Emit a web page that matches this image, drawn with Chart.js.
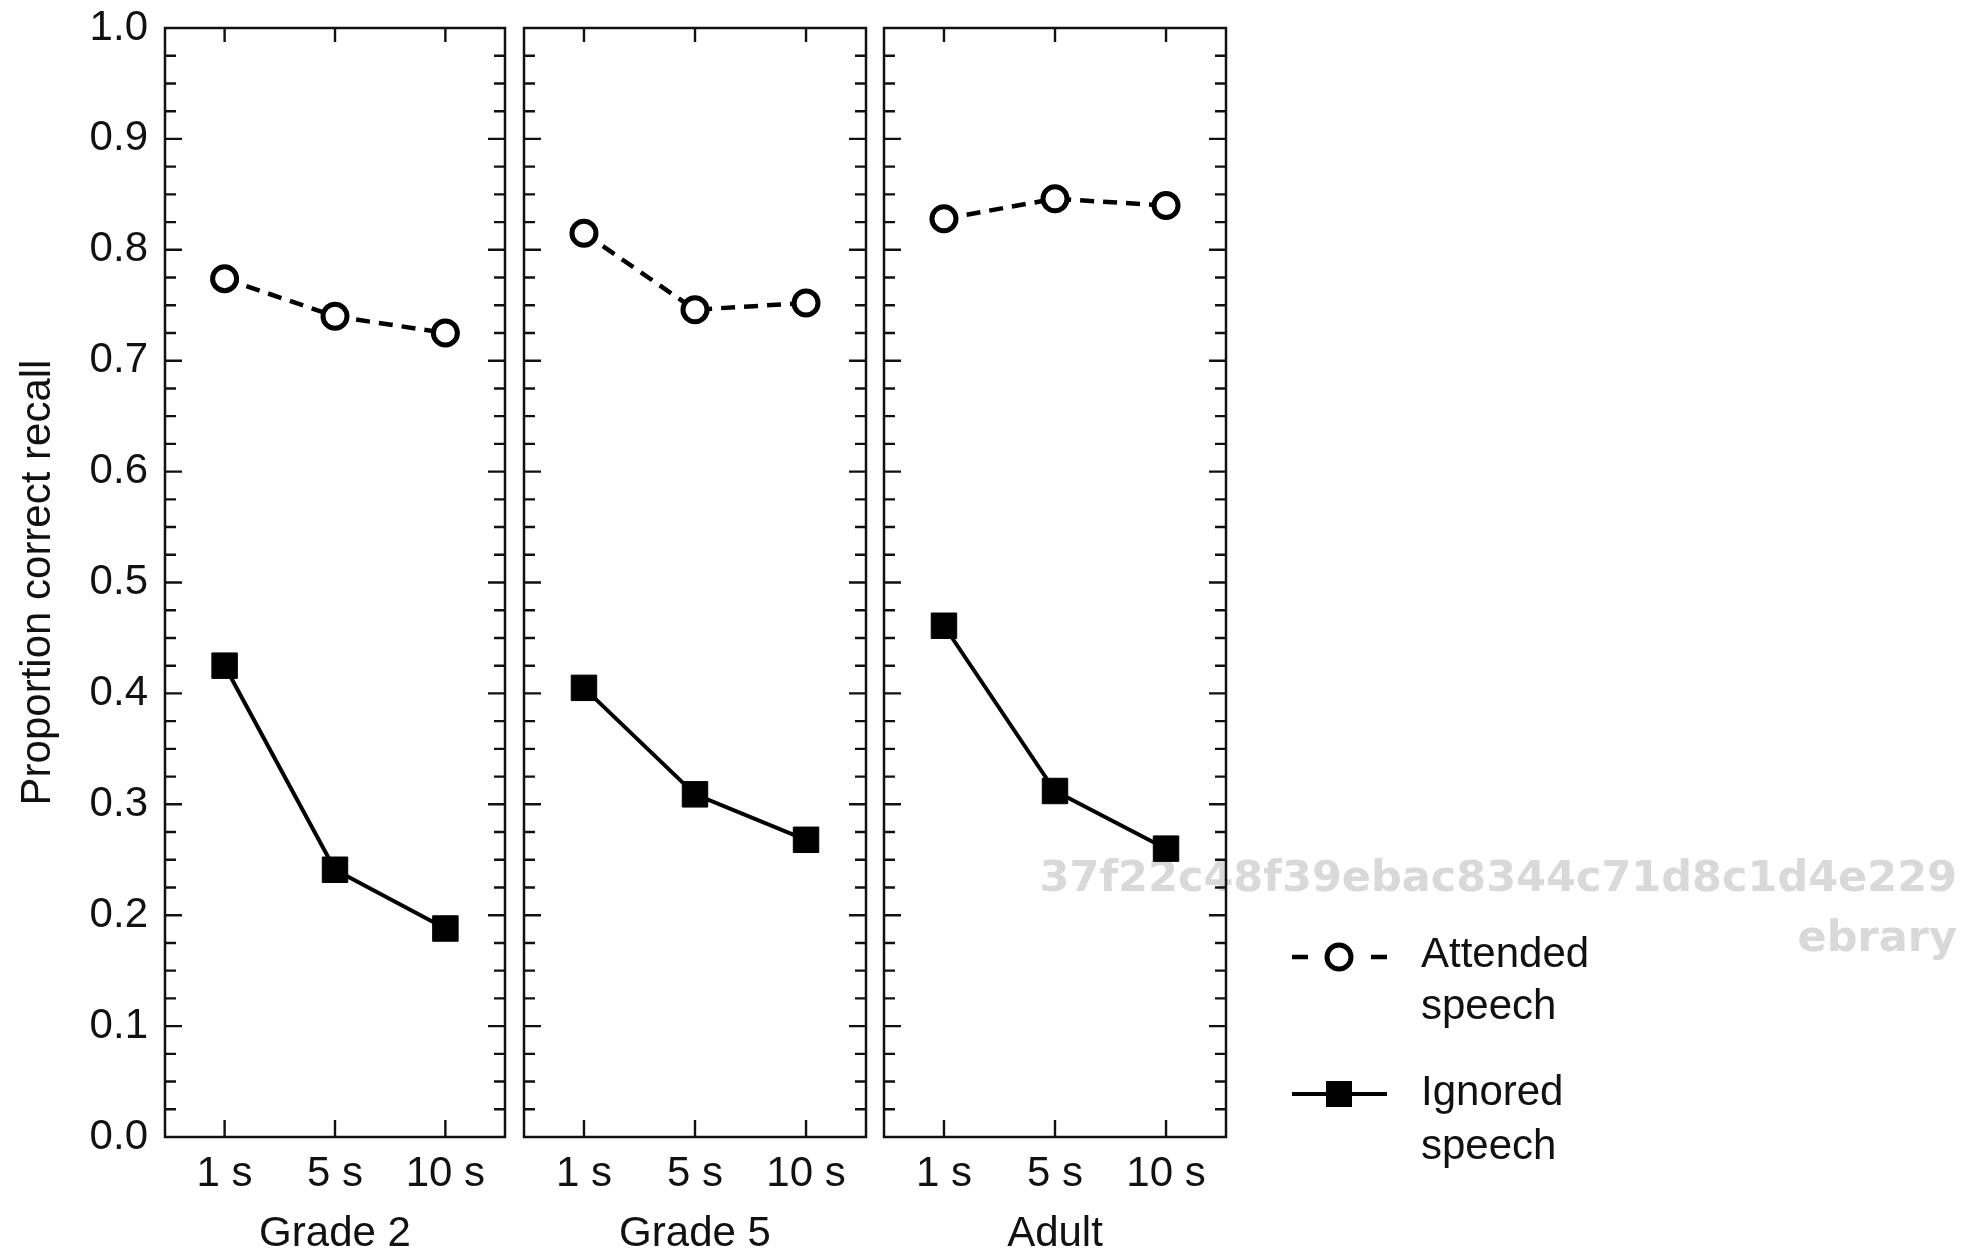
<html><head>
<title>Proportion correct recall by delay</title>
<script src="https://cdn.jsdelivr.net/npm/chart.js"></script>
<style>
  body {
    margin: 0;
    background: #fff;
  }
  .panel {
    position: absolute;
    left: 0;
    top: 0;
    width: 1986px;
    height: 1255px;
  }
</style>
</head>
<body>
<div class="panel"><canvas id="grade2"></canvas></div>
<div class="panel"><canvas id="grade5"></canvas></div>
<div class="panel"><canvas id="adult"></canvas></div>

<script>
const groups = ['Grade 2', 'Grade 5', 'Adult'];
const delays = ['1 s', '5 s', '10 s'];
const seriesNames = ['Attended speech', 'Ignored speech'];
const yTitle = 'Proportion correct recall';

const attendedGrade2 = [0.774, 0.740, 0.725];
const attendedGrade5 = [0.815, 0.746, 0.752];
const attendedAdult  = [0.828, 0.846, 0.840];
const ignoredGrade2  = [0.425, 0.241, 0.188];
const ignoredGrade5  = [0.405, 0.309, 0.268];
const ignoredAdult   = [0.461, 0.312, 0.260];

const watermark = ['37f22c48f39ebac8344c71d8c1d4e229', 'ebrary'];

// plot area left/right edges of each panel, in page pixels
const panelEdges = [[165, 505], [524, 866], [884, 1226]];
const W = 1986, H = 1255;
const font = { family: '"Liberation Sans", Arial, sans-serif', size: 42, lineHeight: 1.2 };
const titleFont = { family: '"Liberation Sans", Arial, sans-serif', size: 42, lineHeight: 1.0 };
const ink = '#111';

const framePlugin = {
  id: 'frame',
  beforeDatasetsDraw(chart) {
    const { ctx, chartArea: a, scales: { x, y } } = chart;
    ctx.save();
    ctx.strokeStyle = ink;
    ctx.lineWidth = 2.5;
    ctx.strokeRect(a.left, a.top, a.right - a.left, a.bottom - a.top);
    ctx.lineWidth = 2.4;
    ctx.beginPath();
    for (let k = 1; k < 40; k++) {
      const py = y.getPixelForValue(k / 40);
      const len = k % 4 === 0 ? 17 : 11;
      ctx.moveTo(a.left, py); ctx.lineTo(a.left + len, py);
      ctx.moveTo(a.right, py); ctx.lineTo(a.right - len, py);
    }
    delays.forEach((d, i) => {
      const px = x.getPixelForValue(i);
      ctx.moveTo(px, a.bottom); ctx.lineTo(px, a.bottom - 17);
      ctx.moveTo(px, a.top); ctx.lineTo(px, a.top + 14);
    });
    ctx.stroke();
    ctx.restore();
  }
};

const watermarkPlugin = {
  id: 'watermark',
  beforeDraw(chart) {
    const ctx = chart.ctx;
    ctx.save();
    ctx.fillStyle = '#d9d9d9';
    ctx.font = 'bold 43px "DejaVu Sans", sans-serif';
    ctx.textAlign = 'right';
    ctx.textBaseline = 'middle';
    ctx.fillText(watermark[0], 1957, 880);
    ctx.fillText(watermark[1], 1957, 940);
    ctx.restore();
  }
};

const legendPlugin = {
  id: 'sideLegend',
  afterDraw(chart) {
    const ctx = chart.ctx;
    const x0 = 1292, x1 = 1387, cx = 1339;
    ctx.save();
    ctx.strokeStyle = '#000';

    // attended: dashed line with open circle
    let ly = 957;
    ctx.lineWidth = 4.5;
    ctx.beginPath();
    ctx.moveTo(x0, ly); ctx.lineTo(x0 + 16, ly);
    ctx.moveTo(x1 - 16, ly); ctx.lineTo(x1, ly);
    ctx.stroke();
    ctx.lineWidth = 5;
    ctx.beginPath();
    ctx.arc(cx, ly, 12, 0, Math.PI * 2);
    ctx.fillStyle = '#fff';
    ctx.fill();
    ctx.stroke();

    // ignored: solid line with filled square
    ly = 1094;
    ctx.lineWidth = 4;
    ctx.beginPath();
    ctx.moveTo(x0, ly); ctx.lineTo(x1, ly);
    ctx.stroke();
    ctx.fillStyle = '#000';
    ctx.fillRect(cx - 13, ly - 13, 26, 26);

    ctx.fillStyle = ink;
    ctx.font = '42px "Liberation Sans", Arial, sans-serif';
    ctx.textAlign = 'left';
    ctx.textBaseline = 'middle';
    const rows = [[955, 1007], [1093, 1147]];
    seriesNames.forEach((name, i) => {
      name.split(' ').forEach((word, j) => ctx.fillText(word, 1421, rows[i][j]));
    });
    ctx.restore();
  }
};

function makeChart(id, idx, attended, ignored, extra) {
  const [left, right] = panelEdges[idx];
  const first = idx === 0;
  return new Chart(document.getElementById(id), {
    type: 'line',
    data: {
      datasets: [
        {
          label: seriesNames[0],
          data: attended.map((v, i) => ({ x: i, y: v })),
          borderColor: '#000',
          borderWidth: 4.5,
          borderDash: [14, 9],
          pointStyle: 'circle',
          pointRadius: 12,
          pointBorderWidth: 5,
          pointBackgroundColor: '#fff',
          pointBorderColor: '#000'
        },
        {
          label: seriesNames[1],
          data: ignored.map((v, i) => ({ x: i, y: v })),
          borderColor: '#000',
          borderWidth: 4,
          pointStyle: 'rect',
          pointRadius: 18,
          pointBorderWidth: 1,
          pointBackgroundColor: '#000',
          pointBorderColor: '#000'
        }
      ]
    },
    options: {
      responsive: true,
      maintainAspectRatio: false,
      animation: false,
      events: [],
      layout: { padding: { left: 0, right: W - right, top: 28, bottom: 0 } },
      plugins: { legend: { display: false }, tooltip: { enabled: false } },
      scales: {
        x: {
          type: 'linear',
          min: -0.54,
          max: 2.54,
          afterBuildTicks: s => { s.ticks = delays.map((d, i) => ({ value: i })); },
          afterFit: s => { s.height = H - 1137; s.paddingLeft = 0; s.paddingRight = 0; },
          grid: { display: false, drawTicks: false },
          border: { display: false },
          ticks: { callback: v => delays[v], font: font, color: ink, padding: 12, maxRotation: 0, autoSkip: false },
          title: { display: true, text: groups[idx], font: titleFont, color: ink, padding: { top: 0, bottom: 0 } }
        },
        y: {
          min: 0,
          max: 1,
          afterFit: s => { s.width = left; s.paddingTop = 0; s.paddingBottom = 0; },
          grid: { display: false, drawTicks: false },
          border: { display: false },
          ticks: { display: first, stepSize: 0.1, callback: v => v.toFixed(1), font: font, color: ink, padding: 17 },
          title: { display: first, text: yTitle, font: titleFont, color: ink, padding: { top: 17, bottom: 0 } }
        }
      }
    },
    plugins: [framePlugin].concat(extra || [])
  });
}

makeChart('grade2', 0, attendedGrade2, ignoredGrade2);
makeChart('grade5', 1, attendedGrade5, ignoredGrade5);
makeChart('adult', 2, attendedAdult, ignoredAdult, [watermarkPlugin, legendPlugin]);
</script>
</body></html>
